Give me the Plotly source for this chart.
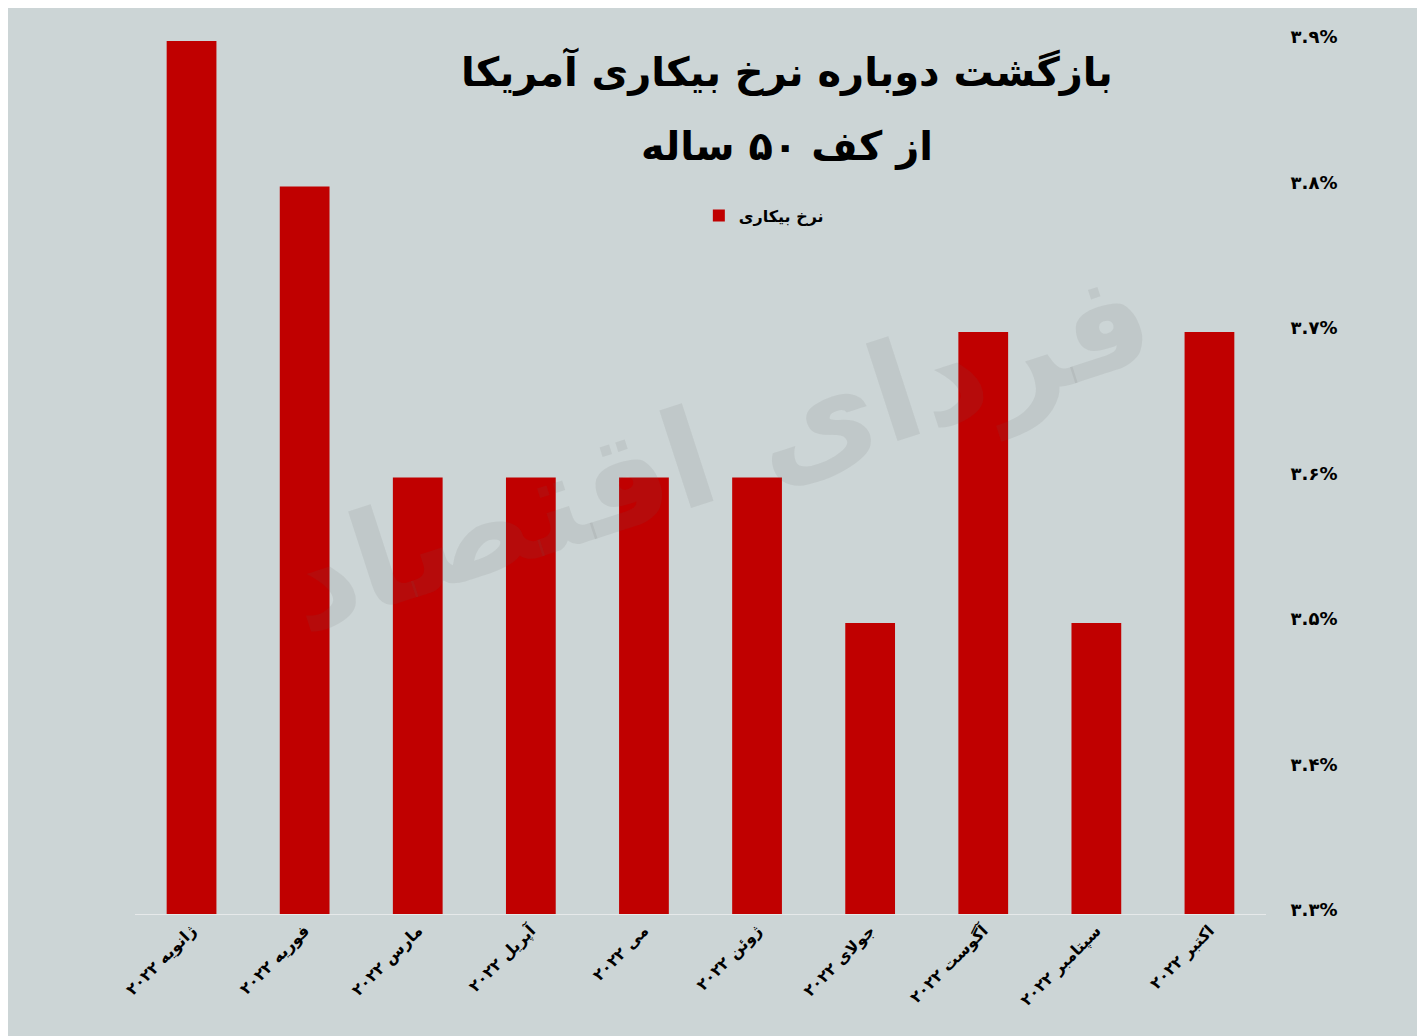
import plotly.graph_objects as go

categories = ["ژانویه ۲۰۲۲", "فوریه ۲۰۲۲", "مارس ۲۰۲۲", "آپریل ۲۰۲۲", "می ۲۰۲۲",
              "ژوئن ۲۰۲۲", "جولای ۲۰۲۲", "آگوست ۲۰۲۲", "سپتامبر ۲۰۲۲", "اکتبر ۲۰۲۲"]
unemployment = [3.9, 3.8, 3.6, 3.6, 3.6, 3.6, 3.5, 3.7, 3.5, 3.7]
tick_vals = [3.3, 3.4, 3.5, 3.6, 3.7, 3.8, 3.9]
tick_text = ["۳.۳%", "۳.۴%", "۳.۵%", "۳.۶%", "۳.۷%", "۳.۸%", "۳.۹%"]
series_name = "نرخ بیکاری"
title_line1 = "بازگشت دوباره نرخ بیکاری آمریکا"
title_line2 = "از کف ۵۰ ساله"
watermark = "فردای اقتصاد"

FONT = "DejaVu Sans"
BG = "#ccd5d6"

fig = go.Figure()
fig.add_trace(go.Bar(
    x=categories, y=unemployment, name="<b>" + series_name + "</b>",
    marker=dict(color="#c00000", line=dict(width=0)),
    showlegend=True,
))

fig.update_layout(
    width=1425, height=1036,
    paper_bgcolor=BG, plot_bgcolor=BG,
    margin=dict(l=127, r=167, t=33, b=130),
    bargap=0.56,
    font=dict(family=FONT, color="#000000"),
    showlegend=True,
    legend=dict(orientation="h", x=0.556, xanchor="center", y=0.800, yanchor="middle",
                bgcolor="rgba(0,0,0,0)",
                font=dict(family=FONT, size=16, color="#000000")),
    xaxis=dict(
        showgrid=False, zeroline=False,
        showline=True, linecolor="#e6e9ea", linewidth=1,
        tickangle=-45, ticks="",
        tickvals=categories, ticktext=["<b>" + c + "</b>" for c in categories],
        tickfont=dict(family=FONT, size=16, color="#000000"),
    ),
    yaxis=dict(
        side="right", range=[3.3, 3.9],
        showgrid=False, zeroline=False, showline=False,
        tickvals=tick_vals, ticktext=["<b>" + t + "</b>" for t in tick_text],
        ticks="outside", ticklen=20, tickcolor="rgba(0,0,0,0)",
        ticklabelshift=-4,
        tickfont=dict(family=FONT, size=18, color="#000000"),
    ),
    annotations=[
        dict(text="<b>" + title_line1 + "</b>", xref="paper", yref="paper",
             x=0.5765, y=0.9645, xanchor="center", yanchor="middle", showarrow=False,
             font=dict(family=FONT, size=40, color="#000000")),
        dict(text="<b>" + title_line2 + "</b>", xref="paper", yref="paper",
             x=0.5765, y=0.8786, xanchor="center", yanchor="middle", showarrow=False,
             font=dict(family=FONT, size=40, color="#000000")),
        dict(text="<b>" + watermark + "</b>", xref="paper", yref="paper",
             x=0.515, y=0.53, xanchor="center", yanchor="middle",
             showarrow=False, textangle=-18,
             font=dict(family=FONT, size=135, color="rgba(100,100,100,0.11)")),
    ],
)

fig.write_html("out.html")
